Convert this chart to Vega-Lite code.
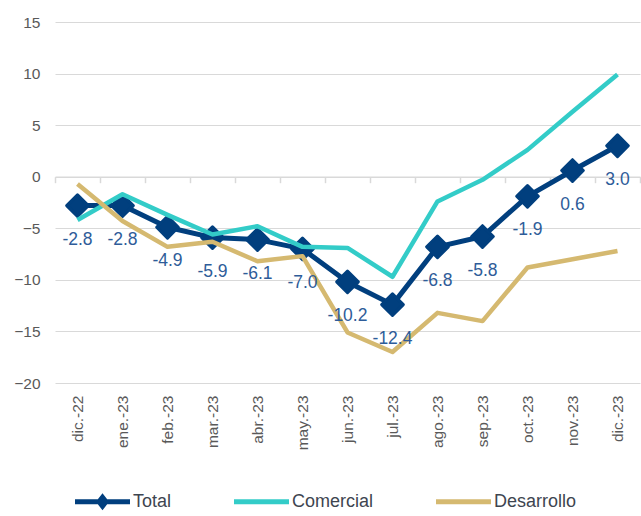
{
  "$schema": "https://vega.github.io/schema/vega-lite/v6.json",
  "width": 585,
  "height": 361,
  "autosize": "none",
  "padding": {"left": 55, "top": 22, "right": 1, "bottom": 133},
  "config": {"view": {"stroke": null}, "font": "Liberation Sans"},
  "data": {"values": [
    {"mes": "dic.-22", "serie": "Total", "valor": -2.8, "etiqueta": "-2.8"},
    {"mes": "ene.-23", "serie": "Total", "valor": -2.8, "etiqueta": "-2.8"},
    {"mes": "feb.-23", "serie": "Total", "valor": -4.9, "etiqueta": "-4.9"},
    {"mes": "mar.-23", "serie": "Total", "valor": -5.9, "etiqueta": "-5.9"},
    {"mes": "abr.-23", "serie": "Total", "valor": -6.1, "etiqueta": "-6.1"},
    {"mes": "may.-23", "serie": "Total", "valor": -7.0, "etiqueta": "-7.0"},
    {"mes": "jun.-23", "serie": "Total", "valor": -10.2, "etiqueta": "-10.2"},
    {"mes": "jul.-23", "serie": "Total", "valor": -12.4, "etiqueta": "-12.4"},
    {"mes": "ago.-23", "serie": "Total", "valor": -6.8, "etiqueta": "-6.8"},
    {"mes": "sep.-23", "serie": "Total", "valor": -5.8, "etiqueta": "-5.8"},
    {"mes": "oct.-23", "serie": "Total", "valor": -1.9, "etiqueta": "-1.9"},
    {"mes": "nov.-23", "serie": "Total", "valor": 0.6, "etiqueta": "0.6"},
    {"mes": "dic.-23", "serie": "Total", "valor": 3.0, "etiqueta": "3.0"},
    {"mes": "dic.-22", "serie": "Comercial", "valor": -4.2},
    {"mes": "ene.-23", "serie": "Comercial", "valor": -1.7},
    {"mes": "feb.-23", "serie": "Comercial", "valor": -3.7},
    {"mes": "mar.-23", "serie": "Comercial", "valor": -5.6},
    {"mes": "abr.-23", "serie": "Comercial", "valor": -4.8},
    {"mes": "may.-23", "serie": "Comercial", "valor": -6.8},
    {"mes": "jun.-23", "serie": "Comercial", "valor": -6.9},
    {"mes": "jul.-23", "serie": "Comercial", "valor": -9.7},
    {"mes": "ago.-23", "serie": "Comercial", "valor": -2.4},
    {"mes": "sep.-23", "serie": "Comercial", "valor": -0.3},
    {"mes": "oct.-23", "serie": "Comercial", "valor": 2.6},
    {"mes": "nov.-23", "serie": "Comercial", "valor": 6.3},
    {"mes": "dic.-23", "serie": "Comercial", "valor": 9.9},
    {"mes": "dic.-22", "serie": "Desarrollo", "valor": -0.7},
    {"mes": "ene.-23", "serie": "Desarrollo", "valor": -4.3},
    {"mes": "feb.-23", "serie": "Desarrollo", "valor": -6.8},
    {"mes": "mar.-23", "serie": "Desarrollo", "valor": -6.3},
    {"mes": "abr.-23", "serie": "Desarrollo", "valor": -8.2},
    {"mes": "may.-23", "serie": "Desarrollo", "valor": -7.7},
    {"mes": "jun.-23", "serie": "Desarrollo", "valor": -15.1},
    {"mes": "jul.-23", "serie": "Desarrollo", "valor": -17.0},
    {"mes": "ago.-23", "serie": "Desarrollo", "valor": -13.2},
    {"mes": "sep.-23", "serie": "Desarrollo", "valor": -14.0},
    {"mes": "oct.-23", "serie": "Desarrollo", "valor": -8.8},
    {"mes": "nov.-23", "serie": "Desarrollo", "valor": -8.0},
    {"mes": "dic.-23", "serie": "Desarrollo", "valor": -7.2}
  ]},
  "encoding": {
    "x": {
      "field": "mes", "type": "ordinal",
      "sort": ["dic.-22","ene.-23","feb.-23","mar.-23","abr.-23","may.-23","jun.-23","jul.-23","ago.-23","sep.-23","oct.-23","nov.-23","dic.-23"],
      "scale": {"type": "band", "paddingInner": 0, "paddingOuter": 0},
      "axis": null
    },
    "y": {
      "field": "valor", "type": "quantitative",
      "scale": {"domain": [-20, 15], "nice": false, "zero": false},
      "axis": {"title": null, "values": [-20,-15,-10,-5,0,5,10,15], "grid": true, "gridColor": "#D9D9D9", "gridWidth": 1,
        "domain": false, "ticks": false, "labelColor": "#595959", "labelFontSize": 15.5, "labelPadding": 15, "labelFont": "Liberation Sans"}
    }
  },
  "layer": [
    {
      "transform": [{"filter": "datum.serie == 'Total'"}],
      "mark": {"type": "line", "strokeWidth": 5, "strokeJoin": "round"},
      "encoding": {
        "x": {
          "field": "mes", "type": "ordinal",
          "sort": ["dic.-22","ene.-23","feb.-23","mar.-23","abr.-23","may.-23","jun.-23","jul.-23","ago.-23","sep.-23","oct.-23","nov.-23","dic.-23"],
          "scale": {"type": "band", "paddingInner": 0, "paddingOuter": 0},
          "axis": {"title": null, "orient": "top", "offset": -154.7, "labels": false, "domain": true, "domainColor": "#D9D9D9",
            "domainWidth": 1.5, "ticks": true, "tickColor": "#D9D9D9", "tickWidth": 1.5, "tickSize": -6, "tickBand": "extent", "grid": false}
        },
        "color": {"field": "serie", "type": "nominal"}
      }
    },
    {
      "transform": [{"filter": "datum.serie == 'Total'"}],
      "mark": {"type": "point", "shape": "diamond", "size": 470, "filled": true, "opacity": 1, "color": "#013F7E",
        "stroke": "#013F7E", "strokeWidth": 3, "strokeJoin": "round"}
    },
    {
      "transform": [{"filter": "datum.serie != 'Total'"}],
      "mark": {"type": "line", "strokeWidth": 4.5, "strokeJoin": "round"},
      "encoding": {
        "x": {
          "field": "mes", "type": "ordinal",
          "sort": ["dic.-22","ene.-23","feb.-23","mar.-23","abr.-23","may.-23","jun.-23","jul.-23","ago.-23","sep.-23","oct.-23","nov.-23","dic.-23"],
          "scale": {"type": "band", "paddingInner": 0, "paddingOuter": 0},
          "axis": {"title": null, "orient": "bottom", "labelAngle": -90, "labelColor": "#595959", "labelFontSize": 15.5,
            "labelPadding": 12, "domain": false, "ticks": false, "grid": false, "labelFont": "Liberation Sans"}
        },
        "color": {
          "field": "serie", "type": "nominal",
          "scale": {"domain": ["Total", "Comercial", "Desarrollo"], "range": ["#013F7E", "#33CCC8", "#D5B970"]},
          "legend": {
            "title": null, "orient": "none", "direction": "horizontal", "legendX": 20, "legendY": 452,
            "symbolSize": 3025, "symbolStrokeWidth": 0, "labelFontSize": 18, "labelColor": "#3E4550",
            "labelOffset": 3, "columnPadding": 62, "labelFont": "Liberation Sans",
            "encode": {"symbols": {"update": {
              "shape": {"signal": "datum.value == 'Total' ? 'M-1,-0.09L-0.17,-0.09L0,-0.31L0.17,-0.09L1,-0.09L1,0.09L0.17,0.09L0,0.31L-0.17,0.09L-1,0.09Z' : 'M-1,-0.09L1,-0.09L1,0.09L-1,0.09Z'"},
              "fill": {"scale": "color", "field": "value"},
              "stroke": {"value": "transparent"},
              "opacity": {"value": 1},
              "fillOpacity": {"value": 1}
            }}}
          }
        }
      }
    },
    {
      "transform": [{"filter": "datum.serie == 'Total'"}],
      "mark": {"type": "text", "dy": 34, "fontSize": 17.5, "color": "#2E5C99", "font": "Liberation Sans"},
      "encoding": {"text": {"field": "etiqueta", "type": "nominal"}}
    }
  ],
  "resolve": {"axis": {"x": "independent"}}
}
